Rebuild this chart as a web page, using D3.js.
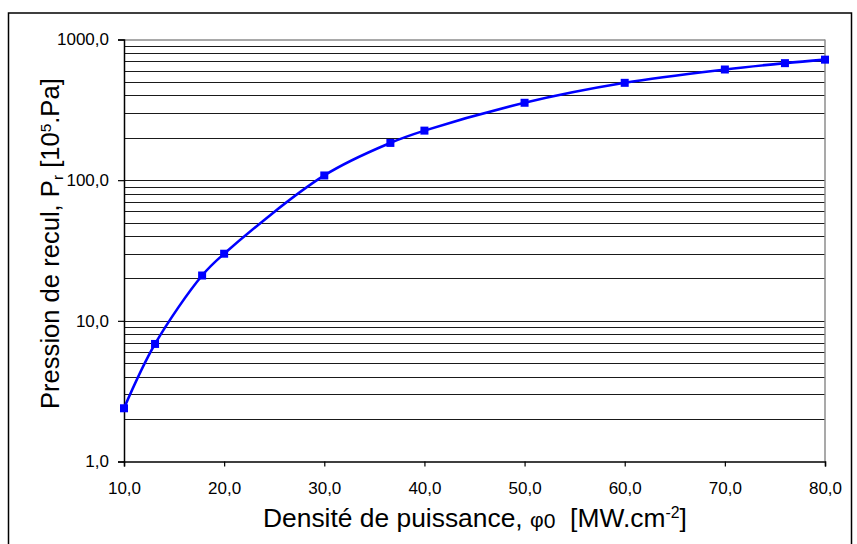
<!DOCTYPE html>
<html>
<head>
<meta charset="utf-8">
<script src="https://cdn.jsdelivr.net/npm/d3@7"></script>
<style>
  html, body { margin: 0; padding: 0; background: #fff; }
  svg { display: block; font-family: Arial, "Liberation Sans", sans-serif; }
</style>
</head>
<body>
<svg id="chart" width="857" height="544"></svg>
<script>
// Data
const densite = [10, 13.1, 17.8, 20, 30, 36.6, 40, 50, 60, 70, 76, 80];
const pression = [2.39, 6.85, 21, 30, 108, 184, 225, 355, 492, 612, 679, 719];
const xTicks = [10, 20, 30, 40, 50, 60, 70, 80];
const yTicks = [1, 10, 100, 1000];

const svg = d3.select("#chart");
const W = 857, H = 544;
const pLeft = 124, pRight = 825, pTop = 39.5, pBottom = 461.5;

svg.append("rect").attr("width", W).attr("height", H).attr("fill", "#fff");
// outer frame
svg.append("rect").attr("x", 8.5).attr("y", 13).attr("width", 843).attr("height", 545)
  .attr("fill", "none").attr("stroke", "#000").attr("stroke-width", 1.5);

const x = d3.scaleLinear().domain([10, 80]).range([pLeft, pRight]);
const y = d3.scaleLog().domain([1, 1000]).range([pBottom, pTop]);

// gridlines: every minor log tick
const gridVals = [];
for (let k = 0; k < 3; k++) for (let m = 1; m <= 9; m++) {
  const v = m * Math.pow(10, k);
  if (v > 1) gridVals.push(v);
}
svg.append("g").selectAll("line").data(gridVals).join("line")
  .attr("x1", pLeft).attr("x2", pRight)
  .attr("y1", d => Math.round(y(d)) + 0.5).attr("y2", d => Math.round(y(d)) + 0.5)
  .attr("stroke", "#1a1a1a").attr("stroke-width", 1);

// plot area top and right border (gray)
svg.append("line").attr("x1", pLeft).attr("x2", pRight).attr("y1", pTop + 0.5).attr("y2", pTop + 0.5)
  .attr("stroke", "#8c8c8c").attr("stroke-width", 1.5);
svg.append("line").attr("x1", pRight).attr("x2", pRight).attr("y1", pTop).attr("y2", pBottom)
  .attr("stroke", "#8c8c8c").attr("stroke-width", 1.5);

const fmt = d => d.toFixed(1).replace(".", ",");

// y axis
const yAxis = d3.axisLeft(y).tickValues(yTicks).tickFormat(fmt).tickSize(6).tickPadding(9);
const gy = svg.append("g").attr("transform", `translate(${pLeft},0)`).call(yAxis);
// x axis
const xAxis = d3.axisBottom(x).tickValues(xTicks).tickFormat(fmt).tickSize(5).tickPadding(15);
const gx = svg.append("g").attr("transform", `translate(0,${pBottom})`).call(xAxis);

[gx, gy].forEach(g => {
  g.select(".domain").attr("stroke", "#000").attr("stroke-width", 1.5);
  g.selectAll(".tick line").attr("stroke", "#000").attr("stroke-width", 1.2);
  g.selectAll(".tick text").attr("fill", "#000").style("font-size", "17px")
    .style("font-family", "Arial, 'Liberation Sans', sans-serif");
});

// line
const pts = densite.map((d, i) => [d, pression[i]]);
const line = d3.line().x(d => x(d[0])).y(d => y(d[1])).curve(d3.curveCatmullRom.alpha(0.5));
svg.append("path").datum(pts).attr("d", line)
  .attr("fill", "none").attr("stroke", "#0000ff").attr("stroke-width", 2.6);

// markers
svg.append("g").selectAll("rect").data(pts).join("rect")
  .attr("x", d => x(d[0]) - 4).attr("y", d => y(d[1]) - 4)
  .attr("width", 8).attr("height", 8).attr("fill", "#0000ff");

// fit a title's font size so it spans a target length
function fit(textSel, targetLen, baseSize) {
  textSel.style("font-size", baseSize + "px");
  const len = textSel.node().getComputedTextLength();
  const fs = baseSize * targetLen / len;
  textSel.style("font-size", fs + "px");
  return fs;
}

// x title
const xt = svg.append("text").attr("x", 263).attr("y", 527).attr("text-anchor", "start")
  .attr("fill", "#000").attr("xml:space", "preserve").style("white-space", "pre");
xt.append("tspan").text("Densité de puissance, ");
xt.append("tspan").text("φ").style("font-size", "0.8em");
xt.append("tspan").text("0").style("font-size", "0.8em").attr("dy", "0.05em");
xt.append("tspan").text("  [MW.cm").attr("dy", "-0.05em");
xt.append("tspan").text("-2").attr("dy", "-0.55em").style("font-size", "0.6em");
xt.append("tspan").text("]").attr("dy", "0.33em");
fit(xt, 424, 25);

// y title
const yt = svg.append("text").attr("transform", "translate(59,409) rotate(-90)")
  .attr("text-anchor", "start").attr("fill", "#000");
yt.append("tspan").text("Pression de recul, P");
yt.append("tspan").text("r").attr("dy", "0.25em").style("font-size", "0.6em");
yt.append("tspan").text(" [10").attr("dy", "-0.15em");
yt.append("tspan").text("5").attr("dy", "-0.55em").style("font-size", "0.6em");
yt.append("tspan").text(".Pa]").attr("dy", "0.33em");
fit(yt, 331, 24);
</script>
</body>
</html>
